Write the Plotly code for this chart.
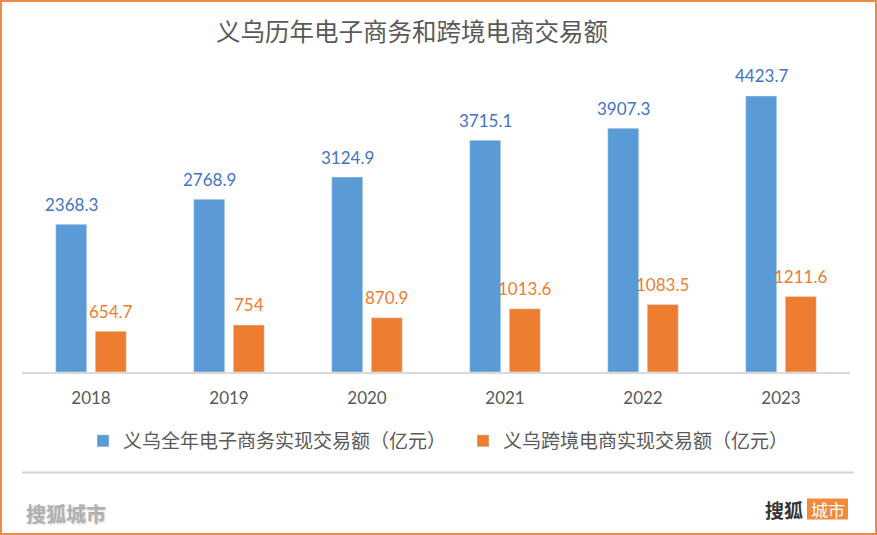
import plotly.graph_objects as go

years = ["2018", "2019", "2020", "2021", "2022", "2023"]
ecommerce = [2368.3, 2768.9, 3124.9, 3715.1, 3907.3, 4423.7]
crossborder = [654.7, 754, 870.9, 1013.6, 1083.5, 1211.6]
ecommerce_labels = ["2368.3", "2768.9", "3124.9", "3715.1", "3907.3", "4423.7"]
crossborder_labels = ["654.7", "754", "870.9", "1013.6", "1083.5", "1211.6"]
series_names = ["义乌全年电子商务实现交易额（亿元）", "义乌跨境电商实现交易额（亿元）"]
title_text = "义乌历年电子商务和跨境电商交易额"

W, H = 877, 535
ML, MR, MT, MB = 22, 27, 60, 163
PW, PH = W - ML - MR, H - MT - MB

def px(x):
    return (x - ML) / PW

def py(y):
    return (H - MB - y) / PH

BLUE = "#5B9BD5"
ORANGE = "#ED7D31"
CJK = "Noto Sans CJK SC"
NUM = "Lato"

fig = go.Figure()
fig.add_trace(go.Bar(x=years, y=ecommerce, name=series_names[0], marker_color=BLUE))
fig.add_trace(go.Bar(x=years, y=crossborder, name=series_names[1], marker_color=ORANGE))

annotations = []
# category axis: annotation x uses the category serial number
for i, (v, t) in enumerate(zip(ecommerce, ecommerce_labels)):
    annotations.append(dict(x=i, y=v, text=t, xref="x", yref="y", showarrow=False,
                            xshift=-19.75, yshift=20, yanchor="middle",
                            font=dict(family=NUM, size=17, color="#4472C4")))
for i, (v, t) in enumerate(zip(crossborder, crossborder_labels)):
    annotations.append(dict(x=i, y=v, text=t, xref="x", yref="y", showarrow=False,
                            xshift=19.75, yshift=20, yanchor="middle",
                            font=dict(family=NUM, size=17, color=ORANGE)))

annotations.append(dict(x=px(23.5), y=py(513), xref="paper", yref="paper", text="搜狐城市",
                        showarrow=False, xanchor="left", yanchor="middle",
                        font=dict(family=CJK, size=20, color="#b0b0b0", weight="bold",
                                  shadow="1px 1px 2px #cfcfcf")))
annotations.append(dict(x=px(805), y=py(509), xref="paper", yref="paper", text="搜狐",
                        showarrow=False, xanchor="right", yanchor="middle",
                        font=dict(family=CJK, size=19, color="#333333", weight="bold")))
annotations.append(dict(x=px(827.5), y=py(509), xref="paper", yref="paper", text="城市",
                        showarrow=False, xanchor="center", yanchor="middle",
                        font=dict(family=CJK, size=17, color="white")))

shapes = [
    dict(type="rect", xref="paper", yref="paper", x0=px(807), x1=px(848), y0=py(519.5), y1=py(498.5),
         fillcolor="#F08A3C", line=dict(width=0), layer="below"),
    dict(type="line", xref="paper", yref="paper", x0=px(22), x1=px(854), y0=py(472.5), y1=py(472.5),
         line=dict(color="#d4d4d4", width=2)),
    dict(type="rect", xref="paper", yref="paper", x0=px(1), x1=px(876), y0=py(534), y1=py(1),
         line=dict(color="#EE8A4A", width=2), fillcolor="rgba(0,0,0,0)"),
]

fig.update_layout(
    width=W, height=H,
    margin=dict(l=ML, r=MR, t=MT, b=MB, autoexpand=False),
    paper_bgcolor="white", plot_bgcolor="white",
    barmode="group", bargap=0.427, bargroupgap=0.215,
    title=dict(text=title_text, xref="container", yref="container",
               x=412 / W, y=1 - 32.5 / H, xanchor="center", yanchor="middle",
               font=dict(family=CJK, size=24.5, color="#595959")),
    xaxis=dict(type="category", range=[-0.5, 5.5], showline=True, linecolor="#D9D9D9", linewidth=1.5,
               showgrid=False, ticks="", ticklabelstandoff=10, automargin=False,
               tickfont=dict(family=NUM, size=17, color="#595959"), fixedrange=True),
    yaxis=dict(range=[0, 5000], visible=False, showgrid=False, zeroline=False,
               fixedrange=True, automargin=False),
    showlegend=True,
    legend=dict(orientation="h", x=px(83), y=py(441), xanchor="left", yanchor="middle",
                font=dict(family=CJK, size=19, color="#595959"),
                entrywidth=335, entrywidthmode="pixels", traceorder="normal",
                bgcolor="rgba(0,0,0,0)"),
    annotations=annotations,
    shapes=shapes,
)

fig.write_html("out.html")
